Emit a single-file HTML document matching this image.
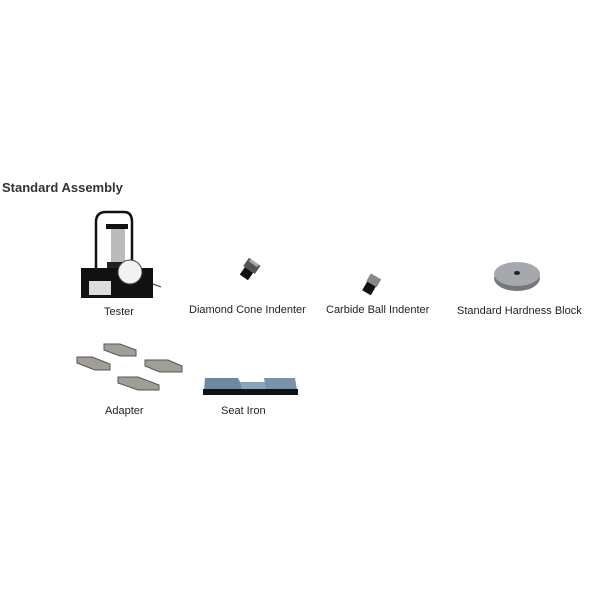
<!DOCTYPE html>
<html><head><style>
body{margin:0;width:600px;height:600px;background:#fff;position:relative;overflow:hidden;font-family:"Liberation Sans",Arial,sans-serif}
.t{position:absolute;font-size:11px;color:#222;white-space:nowrap}
</style></head><body>
<div class="t" style="left:2px;top:180px;font-size:13px;font-weight:bold;color:#333">Standard Assembly</div>
<svg width="600" height="600" style="position:absolute;left:0;top:0">
<!-- tester -->
<path d="M96 272 V222 Q96 212 106 212 H124 Q132 212 132 222 V272" fill="none" stroke="#111" stroke-width="2.5"/>
<rect x="106" y="224" width="22" height="5" fill="#111"/>
<rect x="111" y="229" width="14" height="33" fill="#bbb"/>
<rect x="107" y="262" width="20" height="10" fill="#222"/>
<rect x="81" y="268" width="72" height="30" fill="#111"/>
<rect x="89" y="281" width="22" height="14" fill="#ddd"/>
<circle cx="130" cy="272" r="12" fill="#f2f2f2" stroke="#444"/>
<line x1="153" y1="284" x2="161" y2="287" stroke="#333"/>
<!-- diamond cone -->
<g transform="translate(249,270) rotate(35)"><rect x="-7" y="-10" width="14" height="10" fill="#555"/><rect x="-5" y="0" width="10" height="9" fill="#111"/><rect x="-5" y="-10" width="10" height="3" fill="#aaa"/></g>
<!-- carbide ball -->
<g transform="translate(371,285) rotate(30)"><rect x="-6" y="-10" width="12" height="9" fill="#888"/><rect x="-5" y="-1" width="10" height="10" fill="#111"/></g>
<!-- hardness block -->
<ellipse cx="517" cy="278" rx="23" ry="13" fill="#777"/>
<ellipse cx="517" cy="274" rx="23" ry="12" fill="#a5a8ad"/>
<ellipse cx="517" cy="273" rx="3" ry="2" fill="#222"/>
<!-- adapters -->
<g fill="#a09e96" stroke="#555" stroke-width="1">
<polygon points="77,357 92,357 110,364 110,370 95,370 77,363"/>
<polygon points="104,344 120,344 136,350 136,356 120,356 104,350"/>
<polygon points="145,360 168,360 182,366 182,372 160,372 145,366"/>
<polygon points="118,377 138,377 159,385 159,390 138,390 118,383"/>
</g>
<!-- seat iron -->
<polygon points="205,378 238,378 244,390 204,390" fill="#6f87a0"/>
<polygon points="240,382 268,382 268,390 242,390" fill="#8aa4bd"/>
<polygon points="264,378 295,378 297,390 266,390" fill="#7892aa"/>
<rect x="203" y="389" width="95" height="6" fill="#111"/>
</svg>
<div class="t" style="left:104px;top:306px">Tester</div>
<div class="t" style="left:189px;top:304px">Diamond Cone Indenter</div>
<div class="t" style="left:326px;top:304px">Carbide Ball Indenter</div>
<div class="t" style="left:457px;top:305px">Standard Hardness Block</div>
<div class="t" style="left:105px;top:405px">Adapter</div>
<div class="t" style="left:221px;top:405px">Seat Iron</div>
</body></html>
